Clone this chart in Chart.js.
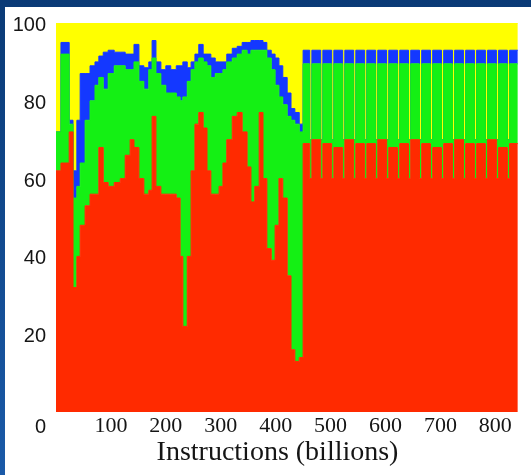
<!DOCTYPE html>
<html lang="en">
<head>
    <meta charset="UTF-8">
    <title>Instructions (billions)</title>
    <style>
        html, body {
            margin: 0;
            padding: 0;
            width: 531px;
            height: 475px;
            overflow: hidden;
            background: linear-gradient(to bottom, #0a3a76, #1a5aa8);
        }

        .panel {
            position: absolute;
            left: 5px;
            top: 7px;
            right: 0;
            bottom: 0;
            background: #ffffff;
        }

        #chart {
            position: absolute;
            left: 0;
            top: 0;
        }
    </style>
</head>
<body>
    <div class="panel"></div>
    <canvas id="chart" width="531" height="475"></canvas>

    <script src="https://cdn.jsdelivr.net/npm/chart.js"></script>
    <script>
        // x positions (billions of instructions) where each column starts
        const instructions = [
            0, 9, 24, 31, 38, 44, 53, 62, 71, 78,
            86, 95, 106, 117, 126, 135, 142, 151, 160, 169,
            175, 182, 191, 200, 209, 219, 226, 231, 239, 246,
            253, 260, 268, 275, 282, 290, 297, 304, 311, 321,
            330, 339, 348, 355, 362, 370, 377, 384, 392, 399,
            406, 413, 421, 428, 435, 443,
            450, 462, 466, 482, 486, 502, 506, 522, 526, 542,
            546, 562, 566, 582, 586, 602, 606, 622, 626, 642,
            646, 662, 666, 682, 686, 702, 706, 722, 726, 742,
            746, 762, 766, 782, 786, 802, 806, 822, 826, 841
        ];

        // share of each category (%), stacked bottom to top
        const redShare = [
            62, 64, 72, 32, 40, 48, 53, 56, 56, 68,
            59, 58, 59, 60, 66, 70, 68, 60, 56, 57,
            76, 58, 56, 56, 56, 55, 40, 22, 40, 62,
            74, 77, 73, 62, 56, 56, 58, 64, 70, 76,
            77, 72, 63, 54, 58, 77, 60, 42, 39, 48,
            60, 55, 35, 16, 13, 14,
            69, 60, 70, 60, 69, 60, 68, 60, 70, 60,
            69, 60, 69, 60, 70, 60, 68, 60, 69, 60,
            70, 60, 69, 60, 68, 60, 69, 60, 70, 60,
            69, 60, 69, 60, 70, 60, 68, 60, 69, 69
        ];
        const greenShare = [
            10, 28, 2, 23, 18, 16, 22, 24, 28, 18,
            24, 29, 30, 29, 22, 18, 22, 25, 27, 31,
            15, 29, 28, 26, 26, 26, 40, 59, 45, 26,
            16, 14, 17, 27, 30, 31, 29, 24, 20, 15,
            15, 21, 29, 39, 35, 16, 33, 49, 49, 36,
            21, 24, 41, 59, 61, 58,
            20.5, 10, 19.5, 10, 20.5, 10, 21.5, 10, 19.5, 10,
            20.5, 10, 20.5, 10, 19.5, 10, 21.5, 10, 20.5, 10,
            19.5, 10, 20.5, 10, 21.5, 10, 20.5, 10, 19.5, 10,
            20.5, 10, 20.5, 10, 19.5, 10, 21.5, 10, 20.5, 20.5
        ];
        const blueShare = [
            0, 3, 1, 7, 17, 23, 12, 9, 6, 5.5,
            9.5, 6, 3.5, 3.5, 4, 4, 4.5, 4, 5.5, 2,
            4.5, 3, 4, 7, 6, 8, 9, 9, 3.5, 2,
            2, 3.5, 2, 3, 5, 3, 3, 2, 2, 2.5,
            2, 2, 3, 2.5, 2.5, 2.5, 2, 2, 4, 7,
            8, 7, 6, 3, 3, 2,
            3.5, 0, 3.5, 0, 3.5, 0, 3.5, 0, 3.5, 0,
            3.5, 0, 3.5, 0, 3.5, 0, 3.5, 0, 3.5, 0,
            3.5, 0, 3.5, 0, 3.5, 0, 3.5, 0, 3.5, 0,
            3.5, 0, 3.5, 0, 3.5, 0, 3.5, 0, 3.5, 3.5
        ];
        const yellowShare = [
            28, 5, 25, 38, 25, 13, 13, 11, 10, 8.5,
            7.5, 7, 7.5, 7.5, 8, 8, 5.5, 11, 11.5, 10,
            4.5, 10, 12, 11, 12, 11, 11, 10, 11.5, 10,
            8, 5.5, 8, 8, 9, 10, 10, 10, 8, 6.5,
            6, 5, 5, 4.5, 4.5, 4.5, 5, 7, 8, 9,
            11, 14, 18, 22, 23, 26,
            7, 30, 7, 30, 7, 30, 7, 30, 7, 30,
            7, 30, 7, 30, 7, 30, 7, 30, 7, 30,
            7, 30, 7, 30, 7, 30, 7, 30, 7, 30,
            7, 30, 7, 30, 7, 30, 7, 30, 7, 7
        ];

        const xTicks = [100, 200, 300, 400, 500, 600, 700, 800];
        const yTicks = [0, 20, 40, 60, 80, 100];

        function series(label, values, color, fill) {
            return {
                label: label,
                data: instructions.map((x, i) => ({ x: x, y: values[i] })),
                backgroundColor: color,
                borderColor: color,
                borderWidth: 1,
                pointRadius: 0,
                stepped: true,
                fill: fill
            };
        }

        const ctx = document.getElementById('chart').getContext('2d');
        new Chart(ctx, {
            type: 'line',
            data: {
                datasets: [
                    series('red', redShare, '#ff2a00', 'origin'),
                    series('green', greenShare, '#14f014', '-1'),
                    series('blue', blueShare, '#1438ff', '-1'),
                    series('yellow', yellowShare, '#ffff00', '-1')
                ]
            },
            options: {
                responsive: false,
                animation: false,
                layout: { padding: { left: 0, right: 11, top: 16, bottom: 0 } },
                plugins: {
                    legend: { display: false },
                    tooltip: { enabled: false }
                },
                scales: {
                    x: {
                        type: 'linear',
                        min: 0,
                        max: 845,
                        grid: { display: false, drawTicks: false },
                        border: { display: false },
                        afterFit: (scale) => { scale.height = 63; },
                        afterBuildTicks: (scale) => {
                            scale.ticks = xTicks.map(v => ({ value: v }));
                        },
                        ticks: {
                            autoSkip: false,
                            maxRotation: 0,
                            padding: 1,
                            color: '#151515',
                            font: { family: "'Liberation Serif', 'Times New Roman', serif", size: 22 }
                        },
                        title: {
                            display: true,
                            text: 'Instructions (billions)   ',
                            color: '#151515',
                            font: { family: "'Liberation Serif', 'Times New Roman', serif", size: 28 },
                            padding: { top: 0, bottom: 6 }
                        }
                    },
                    y: {
                        stacked: true,
                        min: 0,
                        max: 100,
                        grid: { display: false, drawTicks: false },
                        border: { display: false },
                        afterFit: (scale) => { scale.width = 56; },
                        afterBuildTicks: (scale) => {
                            scale.ticks = yTicks.map(v => ({ value: v }));
                        },
                        ticks: {
                            padding: 10,
                            labelOffset: 2.5,
                            color: '#151515',
                            font: { family: "'Liberation Sans', Arial, sans-serif", size: 20, lineHeight: 1.3 },
                            // the 0 sits in the corner, on the row of the x labels
                            callback: (v) => v === 0 ? ['', '0'] : v
                        }
                    }
                }
            }
        });
    </script>
</body>
</html>
